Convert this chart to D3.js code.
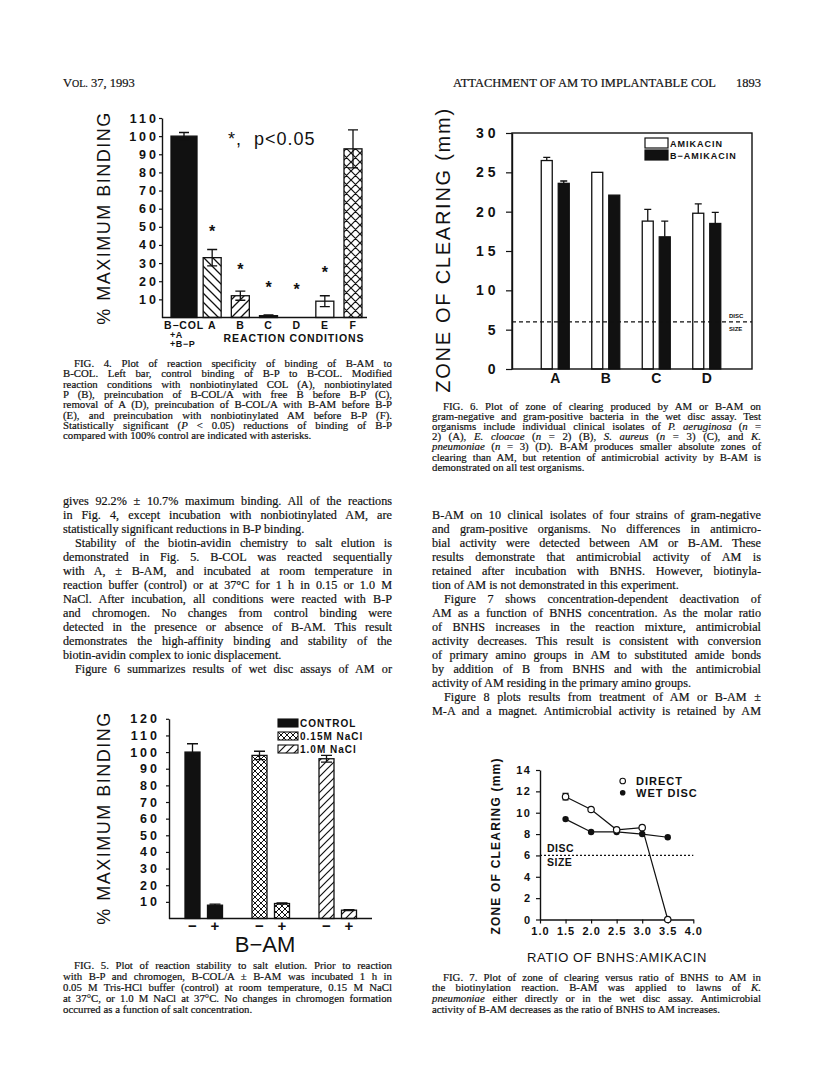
<!DOCTYPE html>
<html>
<head>
<meta charset="utf-8">
<script src="https://cdn.jsdelivr.net/npm/d3@7"></script>
<style>
	body { margin: 0; background: #fff; }
	svg { display: block; }
	.serif { font-family: "Liberation Serif", "Times New Roman", serif; fill: #111; stroke: #111; stroke-width: 0.2px; }
	.plot text { font-family: "Liberation Sans", Arial, sans-serif; fill: #111; }
</style>
</head>
<body>
<div id="page"></div>
<script>
// ---- fig 4: reaction specificity
var fig4Labels = ["B-COL", "A", "B", "C", "D", "E", "F"];
var fig4Values = [100, 33, 12, 1, 0, 9, 93];
var fig4Errors = [2, 4.5, 2.5, 0.4, 0, 3, 10.5];
var fig4Stars = [null, 49, 28, 18, 17, 26, null];
var fig4Ticks = [10, 20, 30, 40, 50, 60, 70, 80, 90, 100, 110];

// ---- fig 6: zone of clearing, AM vs B-AM
var fig6Groups = ["A", "B", "C", "D"];
var fig6Amikacin = [26.5, 25.0, 18.8, 19.8];
var fig6AmikacinErr = [0.4, 0, 1.5, 1.2];
var fig6BAmikacin = [23.6, 22.1, 16.8, 18.5];
var fig6BAmikacinErr = [0.3, 0, 2.0, 1.4];
var fig6Ticks = [0, 5, 10, 15, 20, 25, 30];
var discSize = 6;

// ---- fig 5: salt elution
var fig5Groups = ["CONTROL", "0.15M NaCl", "1.0M NaCl"];
var fig5Minus = [100, 98, 96];
var fig5MinusErr = [5, 2.5, 2];
var fig5Plus = [8, 9, 5];
var fig5PlusErr = [0.6, 0.3, 0.3];
var fig5Ticks = [10, 20, 30, 40, 50, 60, 70, 80, 90, 100, 110, 120];

// ---- fig 7: ratio of BNHS
var fig7Ratios = [1.5, 2.0, 2.5, 3.0, 3.5];
var fig7Direct = [11.5, 10.3, 8.4, 8.6, 0];
var fig7DirectErr = [0.3, 0, 0, 0, 0];
var fig7WetDisc = [9.4, 8.2, 8.2, 8.0, 7.7];
var fig7YTicks = [0, 2, 4, 6, 8, 10, 12, 14];
var fig7XTicks = [1.0, 1.5, 2.0, 2.5, 3.0, 3.5, 4.0];

// ---- page text
var fig4Caption = [
	"¶FIG. 4. Plot of reaction specificity of binding of B-AM to",
	"B-COL. Left bar, control binding of B-P to B-COL. Modified",
	"reaction conditions with nonbiotinylated COL (A), nonbiotinylated",
	"P (B), preincubation of B-COL/A with free B before B-P (C),",
	"removal of A (D), preincubation of B-COL/A with B-AM before B-P",
	"(E), and preincubation with nonbiotinylated AM before B-P (F).",
	"Statistically significant (_P_ < 0.05) reductions of binding of B-P",
	"compared with 100% control are indicated with asterisks."
];
var fig6Caption = [
	"¶FIG. 6. Plot of zone of clearing produced by AM or B-AM on",
	"gram-negative and gram-positive bacteria in the wet disc assay. Test",
	"organisms include individual clinical isolates of _P. aeruginosa_ (_n_ =",
	"2) (A), _E. cloacae_ (_n_ = 2) (B), _S. aureus_ (_n_ = 3) (C), and _K._",
	"_pneumoniae_ (_n_ = 3) (D). B-AM produces smaller absolute zones of",
	"clearing than AM, but retention of antimicrobial activity by B-AM is",
	"demonstrated on all test organisms."
];
var fig5Caption = [
	"¶FIG. 5. Plot of reaction stability to salt elution. Prior to reaction",
	"with B-P and chromogen, B-COL/A ± B-AM was incubated 1 h in",
	"0.05 M Tris-HCl buffer (control) at room temperature, 0.15 M NaCl",
	"at 37°C, or 1.0 M NaCl at 37°C. No changes in chromogen formation",
	"occurred as a function of salt concentration."
];
var fig7Caption = [
	"¶FIG. 7. Plot of zone of clearing versus ratio of BNHS to AM in",
	"the biotinylation reaction. B-AM was applied to lawns of _K._",
	"_pneumoniae_ either directly or in the wet disc assay. Antimicrobial",
	"activity of B-AM decreases as the ratio of BNHS to AM increases."
];
var leftBody = [
	"gives 92.2% ± 10.7% maximum binding. All of the reactions",
	"in Fig. 4, except incubation with nonbiotinylated AM, are",
	"statistically significant reductions in B-P binding.",
	"¶Stability of the biotin-avidin chemistry to salt elution is",
	"demonstrated in Fig. 5. B-COL was reacted sequentially",
	"with A, ± B-AM, and incubated at room temperature in",
	"reaction buffer (control) or at 37°C for 1 h in 0.15 or 1.0 M",
	"NaCl. After incubation, all conditions were reacted with B-P",
	"and chromogen. No changes from control binding were",
	"detected in the presence or absence of B-AM. This result",
	"demonstrates the high-affinity binding and stability of the",
	"biotin-avidin complex to ionic displacement.",
	"¶Figure 6 summarizes results of wet disc assays of AM or"
];
var rightBody = [
	"B-AM on 10 clinical isolates of four strains of gram-negative",
	"and gram-positive organisms. No differences in antimicro-",
	"bial activity were detected between AM or B-AM. These",
	"results demonstrate that antimicrobial activity of AM is",
	"retained after incubation with BNHS. However, biotinyla-",
	"tion of AM is not demonstrated in this experiment.",
	"¶Figure 7 shows concentration-dependent deactivation of",
	"AM as a function of BNHS concentration. As the molar ratio",
	"of BNHS increases in the reaction mixture, antimicrobial",
	"activity decreases. This result is consistent with conversion",
	"of primary amino groups in AM to substituted amide bonds",
	"by addition of B from BNHS and with the antimicrobial",
	"activity of AM residing in the primary amino groups.",
	"¶Figure 8 plots results from treatment of AM or B-AM ±",
	"M-A and a magnet. Antimicrobial activity is retained by AM"
];

(function() {
	var width = 816,
		height = 1088;

	var svg = d3.select("#page")
		.append("svg")
		.attr("width", width)
		.attr("height", height);

	svg.append("rect").attr("width", width).attr("height", height).attr("fill", "#fff");

	var defs = svg.append("defs");
	hatch(defs, "h4back", 9, "back", 1.3);
	hatch(defs, "h4fwd", 9, "fwd", 1.3);
	hatch(defs, "h4cross", 9, "cross", 1.2);
	hatch(defs, "h5cross", 6, "cross", 1);
	hatch(defs, "h5fwd", 8, "fwd", 1.2);

	var ink = "#111";

	// running head
	var head = svg.append("text").attr("class", "serif").attr("x", 63).attr("y", 87).style("font-size", "12.5px");
	head.append("tspan").text("V");
	head.append("tspan").text("OL.").style("font-size", "10px");
	head.append("tspan").text(" 37, 1993");
	svg.append("text").attr("class", "serif").attr("x", 716).attr("y", 87)
		.attr("text-anchor", "end").style("font-size", "12.5px")
		.text("ATTACHMENT OF AM TO IMPLANTABLE COL");
	svg.append("text").attr("class", "serif").attr("x", 761).attr("y", 87)
		.attr("text-anchor", "end").style("font-size", "12.5px").text("1893");

	// ================= FIG 4
	var g4 = svg.append("g").attr("class", "plot");
	var x4 = d3.scalePoint().domain(fig4Labels).range([184, 353]);
	var y4 = d3.scaleLinear().domain([0, 110]).range([317.5, 118]);
	var fill4 = { "B-COL": ink, "A": "url(#h4back)", "B": "url(#h4fwd)", "C": ink, "D": "#fff", "E": "#fff", "F": "url(#h4cross)" };
	function barW4(d) { return d === "B-COL" ? 26 : 18; }

	g4.selectAll(".bar")
		.data(fig4Labels)
		.enter().append("rect")
		.attr("class", "bar")
		.attr("x", function(d) { return x4(d) - barW4(d) / 2; })
		.attr("width", barW4)
		.attr("y", function(d, i) { return y4(fig4Values[i]); })
		.attr("height", function(d, i) { return y4(0) - y4(fig4Values[i]); })
		.attr("fill", function(d) { return fill4[d]; })
		.attr("stroke", ink)
		.attr("stroke-width", 1.3);

	errBars(g4, fig4Labels.map(function(d) { return x4(d); }), fig4Values, fig4Errors, y4, 10, true);

	leftAxis(g4, y4, fig4Ticks, 162, 3, 0, 12.5, 3);
	g4.append("line").attr("x1", 162).attr("x2", 367).attr("y1", y4(0)).attr("y2", y4(0))
		.attr("stroke", ink).attr("stroke-width", 1.4);

	g4.selectAll(".star")
		.data(fig4Labels)
		.enter().filter(function(d, i) { return fig4Stars[i] !== null; })
		.append("text")
		.attr("class", "star")
		.attr("x", function(d) { return x4(d); })
		.attr("y", function(d) { return y4(fig4Stars[fig4Labels.indexOf(d)]) + 8; })
		.attr("text-anchor", "middle")
		.style("font-size", "16px").style("font-weight", "bold")
		.text("*");

	g4.append("text").attr("x", 228).attr("y", 145).style("font-size", "18px")
		.style("letter-spacing", "1px")
		.attr("xml:space", "preserve").text("*,  p<0.05");

	g4.selectAll(".xlab")
		.data(fig4Labels)
		.enter().append("text")
		.attr("class", "xlab")
		.attr("x", function(d) { return x4(d); })
		.attr("y", 329)
		.attr("text-anchor", "middle")
		.style("font-size", "10.5px").style("font-weight", "bold").style("letter-spacing", "0.8px")
		.text(function(d) { return d.replace("-", "−"); });
	g4.append("text").attr("x", 170).attr("y", 338).style("font-size", "9px").style("font-weight", "bold")
		.style("letter-spacing", "0.6px").text("+A");
	g4.append("text").attr("x", 170).attr("y", 347).style("font-size", "9px").style("font-weight", "bold")
		.style("letter-spacing", "0.6px").text("+B−P");
	g4.append("text").attr("x", 294).attr("y", 342).attr("text-anchor", "middle")
		.style("font-size", "10.5px").style("font-weight", "bold").style("letter-spacing", "0.9px")
		.text("REACTION CONDITIONS");
	yTitle(g4, "% MAXIMUM BINDING", 109.5, 218, 18, 1.5, "normal");

	// ================= FIG 6
	var g6 = svg.append("g").attr("class", "plot");
	var x6 = d3.scaleBand().domain(fig6Groups).range([530, 732]);
	var y6 = d3.scaleLinear().domain([0, 30]).range([369, 133]);
	var c6 = function(d) { return x6(d) + x6.bandwidth() / 2; };

	g6.selectAll(".am")
		.data(fig6Groups)
		.enter().append("rect")
		.attr("class", "am")
		.attr("x", function(d) { return c6(d) - 14; })
		.attr("width", 11)
		.attr("y", function(d, i) { return y6(fig6Amikacin[i]); })
		.attr("height", function(d, i) { return y6(0) - y6(fig6Amikacin[i]); })
		.attr("fill", "#fff").attr("stroke", ink).attr("stroke-width", 1.3);
	g6.selectAll(".bam")
		.data(fig6Groups)
		.enter().append("rect")
		.attr("class", "bam")
		.attr("x", function(d) { return c6(d) + 3; })
		.attr("width", 11)
		.attr("y", function(d, i) { return y6(fig6BAmikacin[i]); })
		.attr("height", function(d, i) { return y6(0) - y6(fig6BAmikacin[i]); })
		.attr("fill", ink).attr("stroke", ink).attr("stroke-width", 1.3);

	errBars(g6, fig6Groups.map(function(d) { return c6(d) - 8.5; }), fig6Amikacin, fig6AmikacinErr, y6, 7, false);
	errBars(g6, fig6Groups.map(function(d) { return c6(d) + 8.5; }), fig6BAmikacin, fig6BAmikacinErr, y6, 7, false);

	g6.append("line").attr("x1", 512).attr("x2", 752).attr("y1", y6(discSize)).attr("y2", y6(discSize))
		.attr("stroke", ink).attr("stroke-width", 1.2).attr("stroke-dasharray", "4,3");
	g6.append("text").attr("x", 729).attr("y", y6(discSize) - 4).style("font-size", "6px").style("font-weight", "bold").text("DISC");
	g6.append("text").attr("x", 729).attr("y", y6(discSize) + 9).style("font-size", "6px").style("font-weight", "bold").text("SIZE");

	leftAxis(g6, y6, fig6Ticks, 512, 6, 6.5, 14, 4);
	g6.append("rect").attr("x", 512).attr("y", 133).attr("width", 240).attr("height", 236)
		.attr("fill", "none").attr("stroke", ink).attr("stroke-width", 1.4);

	g6.selectAll(".xlab")
		.data(fig6Groups)
		.enter().append("text")
		.attr("class", "xlab")
		.attr("x", c6)
		.attr("y", 383)
		.attr("text-anchor", "middle")
		.style("font-size", "14px").style("font-weight", "bold")
		.text(function(d) { return d; });

	g6.append("rect").attr("x", 645).attr("y", 138).attr("width", 23).attr("height", 10)
		.attr("fill", "#fff").attr("stroke", ink).attr("stroke-width", 1.2);
	g6.append("rect").attr("x", 645).attr("y", 150).attr("width", 23).attr("height", 10)
		.attr("fill", ink).attr("stroke", ink).attr("stroke-width", 1.2);
	g6.append("text").attr("x", 670).attr("y", 147).style("font-size", "9px").style("font-weight", "bold")
		.style("letter-spacing", "1px").text("AMIKACIN");
	g6.append("text").attr("x", 670).attr("y", 159).style("font-size", "9px").style("font-weight", "bold")
		.style("letter-spacing", "1px").text("B−AMIKACIN");
	yTitle(g6, "ZONE OF CLEARING (mm)", 450, 250, 20, 1.75, "normal");

	// ================= FIG 5
	var g5 = svg.append("g").attr("class", "plot");
	var x5 = d3.scaleBand().domain(fig5Groups).range([170.5, 371.5]);
	var y5 = d3.scaleLinear().domain([0, 120]).range([918.5, 718.8]);
	var c5 = function(d) { return x5(d) + x5.bandwidth() / 2; };
	var fill5 = { "CONTROL": ink, "0.15M NaCl": "url(#h5cross)", "1.0M NaCl": "url(#h5fwd)" };

	g5.selectAll(".minus")
		.data(fig5Groups)
		.enter().append("rect")
		.attr("class", "minus")
		.attr("x", function(d) { return c5(d) - 19; })
		.attr("width", 15)
		.attr("y", function(d, i) { return y5(fig5Minus[i]); })
		.attr("height", function(d, i) { return y5(0) - y5(fig5Minus[i]); })
		.attr("fill", function(d) { return fill5[d]; })
		.attr("stroke", ink).attr("stroke-width", 1.3);
	g5.selectAll(".plus")
		.data(fig5Groups)
		.enter().append("rect")
		.attr("class", "plus")
		.attr("x", function(d) { return c5(d) + 3.5; })
		.attr("width", 15)
		.attr("y", function(d, i) { return y5(fig5Plus[i]); })
		.attr("height", function(d, i) { return y5(0) - y5(fig5Plus[i]); })
		.attr("fill", function(d) { return fill5[d]; })
		.attr("stroke", ink).attr("stroke-width", 1.3);

	errBars(g5, fig5Groups.map(function(d) { return c5(d) - 11.5; }), fig5Minus, fig5MinusErr, y5, 11, true);
	errBars(g5, fig5Groups.map(function(d) { return c5(d) + 11; }), fig5Plus, fig5PlusErr, y5, 11, true);

	leftAxis(g5, y5, fig5Ticks, 169, 3, 6, 12.5, 3);
	g5.append("line").attr("x1", 169).attr("x2", 372).attr("y1", y5(0)).attr("y2", y5(0))
		.attr("stroke", ink).attr("stroke-width", 1.4);

	fig5Groups.forEach(function(d) {
		g5.append("text").attr("x", c5(d) - 11.5).attr("y", 931).attr("text-anchor", "middle")
			.style("font-size", "15px").style("font-weight", "bold").text("−");
		g5.append("text").attr("x", c5(d) + 11).attr("y", 931).attr("text-anchor", "middle")
			.style("font-size", "15px").style("font-weight", "bold").text("+");
	});
	g5.append("text").attr("x", 265).attr("y", 952).attr("text-anchor", "middle")
		.style("font-size", "22px").text("B−AM");
	yTitle(g5, "% MAXIMUM BINDING", 109.5, 818, 18, 1.5, "normal");

	var leg5 = g5.selectAll(".leg")
		.data(fig5Groups)
		.enter().append("g")
		.attr("class", "leg")
		.attr("transform", function(d, i) { return "translate(278," + (719 + i * 13) + ")"; });
	leg5.append("rect").attr("width", 20).attr("height", 8)
		.attr("fill", function(d) { return fill5[d]; }).attr("stroke", ink).attr("stroke-width", 1.1);
	leg5.append("text").attr("x", 22).attr("y", 8).style("font-size", "10px").style("font-weight", "bold")
		.style("letter-spacing", "1px").text(function(d) { return d; });

	// ================= FIG 7
	var g7 = svg.append("g").attr("class", "plot");
	var x7 = d3.scaleLinear().domain([1, 4]).range([540, 693.3]);
	var y7 = d3.scaleLinear().domain([0, 14]).range([919.5, 770]);

	leftAxis(g7, y7, fig7YTicks, 540, 4, 4.5, 11, 1.5);
	var xa7 = g7.append("g")
		.attr("transform", "translate(0," + y7(0) + ")")
		.call(d3.axisBottom(x7).tickValues(fig7XTicks).tickSize(4).tickSizeOuter(0).tickPadding(4).tickFormat(d3.format(".1f")));
	xa7.select(".domain").attr("stroke", ink).attr("stroke-width", 1.4);
	xa7.selectAll(".tick line").attr("stroke", ink).attr("stroke-width", 1.2);
	xa7.selectAll(".tick text").style("font-size", "11px").style("font-weight", "bold")
		.style("letter-spacing", "1px").style("font-family", "Liberation Sans, Arial, sans-serif").attr("fill", ink);

	g7.append("line").attr("x1", 540).attr("x2", 693.3).attr("y1", y7(discSize)).attr("y2", y7(discSize))
		.attr("stroke", ink).attr("stroke-width", 1.3).attr("stroke-dasharray", "2,2");
	g7.append("text").attr("x", 547).attr("y", y7(discSize) - 3.5).style("font-size", "10.5px").style("font-weight", "bold")
		.style("letter-spacing", "0.5px").text("DISC");
	g7.append("text").attr("x", 547).attr("y", y7(discSize) + 11).style("font-size", "10.5px").style("font-weight", "bold")
		.style("letter-spacing", "0.5px").text("SIZE");

	var line7 = d3.line()
		.x(function(d) { return x7(d[0]); })
		.y(function(d) { return y7(d[1]); });
	var wet = fig7Ratios.map(function(r, i) { return [r, fig7WetDisc[i]]; });
	var direct = fig7Ratios.map(function(r, i) { return [r, fig7Direct[i]]; });

	g7.append("path").datum(wet).attr("d", line7).attr("fill", "none").attr("stroke", ink).attr("stroke-width", 1.2);
	g7.append("path").datum(direct).attr("d", line7).attr("fill", "none").attr("stroke", ink).attr("stroke-width", 1.2);
	errBars(g7, fig7Ratios.map(x7), fig7Direct, fig7DirectErr, y7, 6, true);

	g7.selectAll(".wet")
		.data(wet)
		.enter().append("circle")
		.attr("class", "wet")
		.attr("cx", function(d) { return x7(d[0]); })
		.attr("cy", function(d) { return y7(d[1]); })
		.attr("r", 3.2)
		.attr("fill", ink);
	g7.selectAll(".direct")
		.data(direct)
		.enter().append("circle")
		.attr("class", "direct")
		.attr("cx", function(d) { return x7(d[0]); })
		.attr("cy", function(d) { return y7(d[1]); })
		.attr("r", 3.2)
		.attr("fill", "#fff").attr("stroke", ink).attr("stroke-width", 1.2);

	g7.append("circle").attr("cx", 622.7).attr("cy", 781).attr("r", 2.8)
		.attr("fill", "#fff").attr("stroke", ink).attr("stroke-width", 1.1);
	g7.append("circle").attr("cx", 622.7).attr("cy", 792.7).attr("r", 2.8).attr("fill", ink);
	g7.append("text").attr("x", 636).attr("y", 785).style("font-size", "11px").style("font-weight", "bold")
		.style("letter-spacing", "1px").text("DIRECT");
	g7.append("text").attr("x", 636).attr("y", 797).style("font-size", "11px").style("font-weight", "bold")
		.style("letter-spacing", "1px").text("WET DISC");
	g7.append("text").attr("x", 617).attr("y", 962).attr("text-anchor", "middle")
		.style("font-size", "13px").style("letter-spacing", "0.6px").text("RATIO OF BNHS:AMIKACIN");
	yTitle(g7, "ZONE OF CLEARING (mm)", 500, 846, 12, 1.2, "bold");

	// ================= text columns
	textBlock(svg, fig4Caption, 63, 367, 329, 10.8, 10.3, 11, true);
	textBlock(svg, leftBody, 63, 505, 329, 12.2, 14, 12, false);
	textBlock(svg, fig5Caption, 63, 969, 329, 10.8, 11, 11, true);
	textBlock(svg, fig6Caption, 432, 409.5, 329, 10.8, 10.2, 11, true);
	textBlock(svg, rightBody, 432, 519, 329, 12.2, 14, 12, false);
	textBlock(svg, fig7Caption, 432, 980.5, 329, 10.8, 10.8, 11, true);

	function leftAxis(g, y, ticks, x, size, pad, fontSize, ls) {
		var ax = g.append("g")
			.attr("transform", "translate(" + x + ",0)")
			.call(d3.axisLeft(y).tickValues(ticks).tickSize(size).tickSizeOuter(0).tickPadding(pad));
		ax.select(".domain").attr("stroke", ink).attr("stroke-width", 1.4);
		ax.selectAll(".tick line").attr("stroke", ink).attr("stroke-width", 1.2);
		ax.selectAll(".tick text")
			.attr("fill", ink)
			.style("font-family", "Liberation Sans, Arial, sans-serif")
			.style("font-size", fontSize + "px")
			.style("font-weight", "bold")
			.style("letter-spacing", ls + "px");
		return ax;
	}

	function yTitle(g, label, x, y, fontSize, ls, weight) {
		g.append("text")
			.attr("transform", "translate(" + x + "," + y + ") rotate(-90)")
			.attr("text-anchor", "middle")
			.style("font-size", fontSize + "px")
			.style("font-weight", weight)
			.style("letter-spacing", ls + "px")
			.text(label);
	}

	function errBars(g, xs, vals, errs, y, cap, both) {
		xs.forEach(function(x, i) {
			if (!errs[i]) return;
			var top = y(vals[i] + errs[i]),
				bot = both ? y(vals[i] - errs[i]) : y(vals[i]);
			var d = "M" + x + "," + bot + "V" + top +
				"M" + (x - cap / 2) + "," + top + "H" + (x + cap / 2);
			if (both) d += "M" + (x - cap / 2) + "," + bot + "H" + (x + cap / 2);
			g.append("path").attr("d", d).attr("fill", "none").attr("stroke", ink).attr("stroke-width", 1.3);
		});
	}

	function textBlock(root, lines, x0, y0, w, size, lead, indent, raggedLast) {
		lines.forEach(function(line, i) {
			var ind = line.charAt(0) === "¶";
			var s = ind ? line.slice(1) : line;
			var next = lines[i + 1];
			var ragged = next === undefined ? raggedLast : next.charAt(0) === "¶";
			var t = root.append("text")
				.attr("class", "serif")
				.attr("x", x0 + (ind ? indent : 0))
				.attr("y", y0 + i * lead)
				.style("font-size", size + "px");
			s.split("_").forEach(function(part, k) {
				if (!part) return;
				t.append("tspan").text(part).style("font-style", k % 2 ? "italic" : null);
			});
			if (!ragged) {
				var gaps = (s.match(/ /g) || []).length;
				var room = w - (ind ? indent : 0) - t.node().getComputedTextLength();
				if (gaps) t.style("word-spacing", (room / gaps) + "px");
			}
		});
	}

	function hatch(defs, id, s, kind, sw) {
		var p = defs.append("pattern")
			.attr("id", id)
			.attr("patternUnits", "userSpaceOnUse")
			.attr("width", s)
			.attr("height", s);
		p.append("rect").attr("width", s).attr("height", s).attr("fill", "#fff");
		var h = s / 2, d = "";
		if (kind === "back" || kind === "cross") {
			d += "M0,0L" + s + "," + s + "M" + (-h) + "," + h + "L" + h + "," + (s + h) + "M" + h + "," + (-h) + "L" + (s + h) + "," + h;
		}
		if (kind === "fwd" || kind === "cross") {
			d += "M0," + s + "L" + s + ",0M" + (-h) + "," + h + "L" + h + "," + (-h) + "M" + h + "," + (s + h) + "L" + (s + h) + "," + h;
		}
		p.append("path").attr("d", d).attr("fill", "none").attr("stroke", "#111").attr("stroke-width", sw);
	}
}) ();
</script>
</body>
</html>
